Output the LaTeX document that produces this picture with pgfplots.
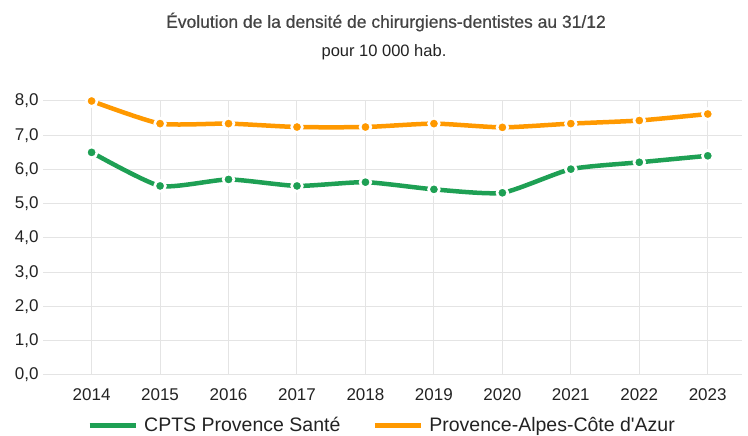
\documentclass[border=0pt]{standalone}
\usepackage{pgfplots}
\pgfplotsset{compat=1.18}
\usepackage{fontspec}
\setmainfont{Liberation Sans}
\definecolor{cgreen}{RGB}{30,160,84}
\definecolor{corange}{RGB}{255,153,0}
\definecolor{cgrid}{RGB}{228,228,228}
\definecolor{ctext}{RGB}{34,34,34}
\definecolor{ctitle}{RGB}{68,68,68}
\begin{document}
\begin{tikzpicture}[x=1pt,y=1pt]
\useasboundingbox (0,0) rectangle (748,436);
\node[font=\fontsize{17.5}{20}\selectfont\addfontfeature{FakeBold=0.6}, text=ctitle] at (386,414) {Évolution de la densité de chirurgiens-dentistes au 31/12};
\node[font=\fontsize{16.5}{18}\selectfont, text=ctext] at (384,384) {pour 10 000 hab.};
\begin{axis}[
  at={(43pt,61pt)}, anchor=south west,
  scale only axis, width=699pt, height=274pt,
  xmin=2013.29, xmax=2023.5, ymin=0, ymax=8,
  xtick={2014,...,2023}, ytick={0,1,...,8},
  grid=major, major grid style={draw=cgrid, line width=1pt},
  axis line style={draw=none},
  major tick length=0pt,
  tick label style={font=\fontsize{17}{20}\selectfont, text=ctext},
  /pgf/number format/assume math mode=true,
  xticklabel style={/pgf/number format/1000 sep={}, yshift=-10pt},
  yticklabel style={/pgf/number format/.cd, fixed, fixed zerofill, precision=1, use comma, /tikz/.cd, xshift=-1pt},
  extra y ticks={0}, extra y tick labels={},
  extra y tick style={grid style={draw=gray!70, line width=2pt}},
  clip=false,
  legend columns=2,
  legend style={at={(0.485,-0.183)}, anchor=center, draw=none, fill=none,
    font=\fontsize{19.5}{22}\selectfont, text=ctext,
    /tikz/every even column/.append style={column sep=30pt},
    /tikz/every odd column/.append style={column sep=4pt}},
  legend image code/.code={\draw[line width=5pt] (0pt,0pt) -- (46pt,0pt);},
]
\addplot[cgreen, line width=4.5pt, smooth, tension=0.35, mark=*, mark size=5.4pt,
  mark options={draw=white, line width=2.6pt, fill=cgreen}]
  coordinates {(2014,6.50) (2015,5.52) (2016,5.71) (2017,5.52) (2018,5.63) (2019,5.42) (2020,5.32) (2021,6.01) (2022,6.21) (2023,6.40)};
\addlegendentry{CPTS Provence Santé}
\addplot[corange, line width=4.5pt, smooth, tension=0.35, mark=*, mark size=5.4pt,
  mark options={draw=white, line width=2.6pt, fill=corange}]
  coordinates {(2014,8.00) (2015,7.34) (2016,7.34) (2017,7.24) (2018,7.24) (2019,7.34) (2020,7.23) (2021,7.34) (2022,7.43) (2023,7.62)};
\addlegendentry{Provence-Alpes-Côte d\textquotesingle Azur}
\end{axis}
\end{tikzpicture}
\end{document}
